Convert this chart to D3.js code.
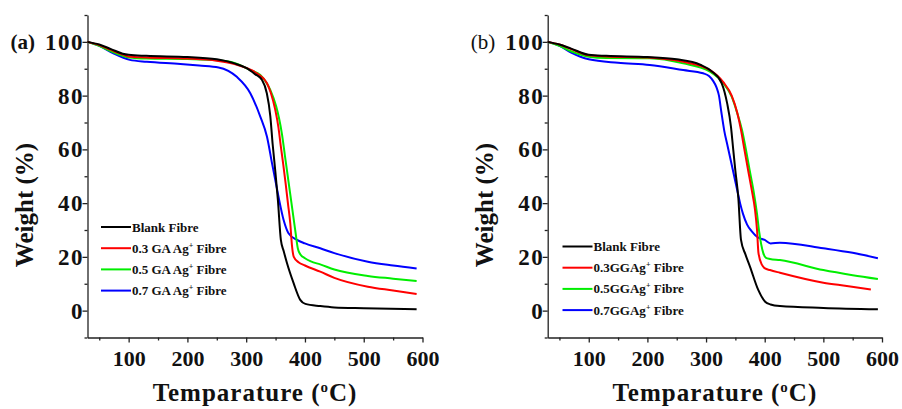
<!DOCTYPE html>
<html lang="en">
<head>
<meta charset="UTF-8">
<title>TGA curves</title>
<script src="https://d3js.org/d3.v7.min.js"></script>
<style>
  body { margin: 0; background: #fff; }
  svg { display: block; }
  .axis path, .axis line { stroke: #222; stroke-width: 1.3; }
  .axis text { font-family: "Liberation Serif", "Times New Roman", serif; font-weight: bold; font-size: 22px; fill: #111; }
  .yaxis text { font-size: 23px; letter-spacing: 1.5px; }
  .title { font-family: "Liberation Serif", "Times New Roman", serif; font-weight: bold; font-size: 25px; fill: #111; }
  .legend text { font-family: "Liberation Serif", "Times New Roman", serif; font-weight: bold; font-size: 13px; fill: #111; }
</style>
</head>
<body>
<svg width="902" height="409"></svg>
<script>
// temperature (°C) / weight (%) pairs

// panel (a)
var blankA = [[30,100],[50,99],[70,97.3],[90,95.6],[100,95.2],[130,94.8],[200,94.4],[250,93.5],[280,92],[300,90.3],[315,88],[327,85.8],[335,81],[341,72.5],[345,62],[349.5,52],[354,41],[359,26.3],[364,22],[369.5,17.6],[380.7,10.2],[392,4],[400.6,2.5],[426,1.7],[450,1.2],[500,0.9],[590,0.5]];
var ga03 = [[30,100],[50,98.8],[70,97],[90,95.3],[100,94.6],[130,94.2],[200,93.8],[250,93],[280,91.8],[300,90.3],[320,88],[335.4,84.6],[342,81],[349.5,74.7],[355,68],[359,61],[363,54.5],[367,47.5],[371,40],[375,32.5],[378,24],[381,20],[389,18],[400,16.8],[426,14.5],[450,12.2],[507,8.9],[550,7.5],[590,6.2]];
var ga05 = [[30,100],[50,98.5],[70,96.5],[90,94.8],[100,94.2],[130,93.8],[200,93.6],[250,93.2],[280,92.2],[307,89.5],[324,87.7],[341,82.1],[351,76],[356,71.5],[361,65.5],[366,57.5],[372,48],[378,38.5],[384,29],[388,23],[392,21],[400,19.5],[410,18.3],[426,17.2],[450,15.3],[507,12.9],[550,11.9],[590,11]];
var ga07 = [[30,100],[50,98.5],[74,95.7],[102,93.3],[131,92.6],[188,91.8],[220,91.2],[253,90.5],[284,87],[307,80.9],[324,72.2],[335.4,64.7],[344,54.8],[349.5,48.6],[355,42.4],[363.7,33.7],[372,28.8],[386.5,26.3],[400,25],[426,23.2],[450,21.4],[507,18.2],[550,16.8],[590,15.7]];

// panel (b)
var blankB = [[30,100],[50,99],[70,97.5],[100,95.2],[130,94.8],[200,94.4],[250,93.5],[290,91.5],[310,89],[326.7,84.6],[336,77.1],[342.5,68.4],[346.4,59.8],[350,52],[355,42],[359.6,26.3],[367,21],[375,16.3],[389,7.7],[400.8,3.3],[410,2.3],[426,1.7],[500,1],[593,0.5]];
var gg03 = [[30,100],[50,99],[70,97.3],[100,95],[130,94.6],[200,94.2],[261,92.6],[306.7,89.5],[329.4,85],[343.7,80],[353.3,73.5],[359.6,67.2],[365.5,59.8],[371.5,52.5],[377.8,45],[383.5,37.5],[386.9,30],[389.4,21.4],[395.4,17],[400.5,15.7],[409,15.1],[426,14.1],[500,10.4],[540,9.2],[581,7.9]];
var gg05 = [[30,100],[50,98.5],[70,96.5],[100,94.5],[130,94],[204,93.9],[261,92],[306.7,88.9],[329.4,84.6],[343.7,79.6],[353.3,73.4],[361.3,67.2],[368.1,59.8],[374.1,52.5],[380.6,45],[386.9,36],[390.8,29],[397.6,21.4],[402.2,19.6],[409,19.2],[426,18.8],[500,15.1],[550,13.2],[593,11.8]];
var gg07 = [[30,100],[50,98.5],[70,96],[100,93.5],[150,92.2],[204,91.4],[261,89.5],[295,88.3],[305,87.3],[312,85.5],[318,83],[322,80],[326,74],[331,67],[337,61],[343,55],[348,50],[353,45],[358,40],[363,36],[370,32],[378,29.5],[388,27.3],[400,26.3],[410,25],[426,25.3],[500,23.2],[550,21.5],[593,19.5]];

var namesA = ["Blank Fibre", "0.3 GA Ag", "0.5 GA Ag", "0.7 GA Ag"];
var namesB = ["Blank Fibre", "0.3GGAg", "0.5GGAg", "0.7GGAg"];
var colors = ["#000000", "#ff0000", "#00ee00", "#0000ff"];

var xMajor = [100, 200, 300, 400, 500, 600];
var xMinor = [50, 150, 250, 350, 450, 550];
var yMajor = [0, 20, 40, 60, 80, 100];
var yMinor = [-10, 10, 30, 50, 70, 90, 110];

var svg = d3.select("svg");

function drawPanel(left, right, letter, letterBold, series, names, legendX, legendY) {
    var top = 15, bottom = 337.5;
    var x = d3.scaleLinear().domain([30, 600]).range([left, right]);
    var y = d3.scaleLinear().domain([-10, 110]).range([bottom, top]);
    var g = svg.append("g");

    // minor ticks first, then major axis
    g.append("g").attr("class", "axis")
        .attr("transform", "translate(0," + bottom + ")")
        .call(d3.axisBottom(x).tickValues(xMinor).tickSize(3).tickFormat(""))
        .select(".domain").remove();
    g.append("g").attr("class", "axis")
        .attr("transform", "translate(0," + bottom + ")")
        .call(d3.axisBottom(x).tickValues(xMajor).tickSize(5).tickSizeOuter(0).tickPadding(8));
    g.append("g").attr("class", "axis")
        .attr("transform", "translate(" + left + ",0)")
        .call(d3.axisLeft(y).tickValues(yMinor).tickSize(3).tickFormat(""))
        .select(".domain").remove();
    g.append("g").attr("class", "axis yaxis")
        .attr("transform", "translate(" + left + ",0)")
        .call(d3.axisLeft(y).tickValues(yMajor).tickSize(5).tickSizeOuter(0).tickPadding(-1.5));

    var line = d3.line()
        .x(function(d) { return x(d[0]); })
        .y(function(d) { return y(d[1]); })
        .curve(d3.curveMonotoneX);

    // draw blue first so black ends up on top like the original
    [3, 2, 1, 0].forEach(function(i) {
        g.append("path")
            .datum(series[i])
            .attr("fill", "none")
            .attr("stroke", colors[i])
            .attr("stroke-width", 2)
            .attr("d", line);
    });

    // axis titles
    var xt = g.append("text").attr("class", "title")
        .attr("x", (left + right) / 2).attr("y", 401)
        .attr("text-anchor", "middle")
        .style("letter-spacing", "1px");
    xt.append("tspan").text("Temparature (");
    xt.append("tspan").attr("font-size", "15px").attr("dy", -9).text("o");
    xt.append("tspan").attr("dy", 9).text("C)");

    g.append("text").attr("class", "title")
        .attr("transform", "translate(" + (left - 55) + ",205) rotate(-90)")
        .attr("text-anchor", "middle")
        .text("Weight (%)");

    g.append("text").attr("class", "title")
        .attr("x", left - 77).attr("y", 49)
        .style("font-size", "21px")
        .style("font-weight", letterBold ? "bold" : "normal")
        .text(letter);

    // legend
    var leg = g.append("g").attr("class", "legend");
    names.forEach(function(n, i) {
        var ly = legendY + i * 21.2;
        leg.append("line")
            .attr("x1", legendX).attr("x2", legendX + 30)
            .attr("y1", ly).attr("y2", ly)
            .attr("stroke", colors[i]).attr("stroke-width", 2);
        var t = leg.append("text").attr("x", legendX + 31).attr("y", ly + 4.5);
        t.append("tspan").text(n);
        if (i > 0) {
            t.append("tspan").attr("font-size", "8px").attr("dy", -5).text("+");
            t.append("tspan").attr("dy", 5).text(" Fibre");
        }
    });
}

drawPanel(87.5, 422.5, "(a)", true, [blankA, ga03, ga05, ga07], namesA, 101, 227);
drawPanel(547.7, 882, "(b)", false, [blankB, gg03, gg05, gg07], namesB, 562.5, 246.5);
</script>
</body>
</html>
